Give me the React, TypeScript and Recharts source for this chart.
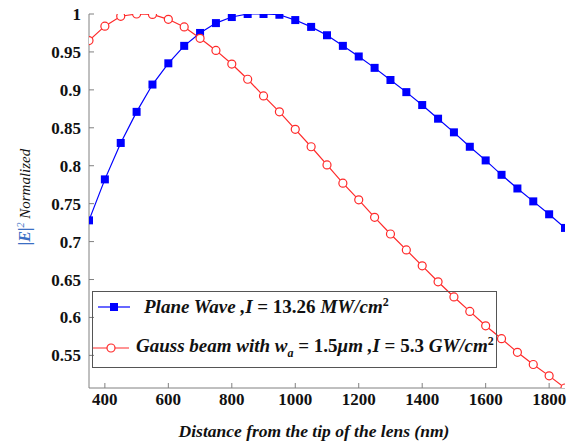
import { LineChart, Line, XAxis, YAxis, Legend, Label } from "recharts";

const distances = [
    350, 400, 450, 500, 550, 600, 650, 700, 750, 800, 850, 900, 950, 1000, 1050, 1100,
    1150, 1200, 1250, 1300, 1350, 1400, 1450, 1500, 1550, 1600, 1650, 1700, 1750, 1800, 1850,
];
const planeWave = [
    0.728, 0.782, 0.83, 0.871, 0.907, 0.935, 0.958, 0.975, 0.988, 0.996, 1.0, 1.0, 0.999, 0.992,
    0.983, 0.972, 0.958, 0.944, 0.929, 0.913, 0.897, 0.88, 0.862, 0.844, 0.825, 0.807, 0.788,
    0.77, 0.753, 0.736, 0.718,
];
const gaussBeam = [
    0.965, 0.984, 0.997, 1.0, 0.9995, 0.993, 0.983, 0.968, 0.952, 0.934, 0.914, 0.892, 0.871,
    0.848, 0.825, 0.801, 0.777, 0.755, 0.732, 0.71, 0.689, 0.668, 0.647, 0.627, 0.608, 0.589,
    0.572, 0.554, 0.538, 0.523, 0.507,
];
const xTicks = [400, 600, 800, 1000, 1200, 1400, 1600, 1800];
const yTicks = [0.55, 0.6, 0.65, 0.7, 0.75, 0.8, 0.85, 0.9, 0.95, 1];

const data = distances.map((d, i) => ({ d, plane: planeWave[i], gauss: gaussBeam[i] }));

const BLUE = "#0000ff";
const RED = "#ff2a2a";
const AXIS = "#808080";
const SERIF = "'Times New Roman', 'Liberation Serif', 'DejaVu Serif', serif";

const XTick = ({ x, y, payload }: any) => (
    <g>
        <line x1={x} x2={x} y1={y - 8} y2={y - 13} stroke={AXIS} />
        <text x={x} y={y + 9} textAnchor="middle" style={{ fontFamily: SERIF, fontWeight: 700, fontSize: 17 }} fill="#111">
            {payload.value}
        </text>
    </g>
);

const YTick = ({ x, y, payload }: any) => (
    <g>
        <line x1={x + 8} x2={x + 13} y1={y} y2={y} stroke={AXIS} />
        <text x={x} y={y + 6} textAnchor="end" style={{ fontFamily: SERIF, fontWeight: 700, fontSize: 17 }} fill="#111">
            {payload.value}
        </text>
    </g>
);

const LegendBox = () => (
    <div
        style={{
            width: 403, height: 75, border: "1.5px solid #555", background: "transparent",
            fontFamily: SERIF, fontWeight: "bold", fontSize: 19, color: "#111", position: "relative",
        }}
    >
        <div style={{ position: "absolute", left: 5, top: 3, display: "flex", alignItems: "center" }}>
            <svg width={34} height={14}>
                <line x1={0} x2={32} y1={7} y2={7} stroke={BLUE} strokeWidth={1.2} />
                <rect x={12} y={3} width={8} height={8} fill={BLUE} />
            </svg>
            <span style={{ marginLeft: 12, whiteSpace: "nowrap" }}>
                <i>Plane Wave ,I</i> = 13.26 <i>MW/cm</i><sup style={{ fontSize: 12 }}>2</sup>
            </span>
        </div>
        <div style={{ position: "absolute", left: 0, top: 42, display: "flex", alignItems: "center" }}>
            <svg width={38} height={14}>
                <line x1={0} x2={36} y1={7} y2={7} stroke={RED} strokeWidth={1.2} />
                <circle cx={18} cy={7} r={4} fill="#fff" stroke={RED} strokeWidth={1.2} />
            </svg>
            <span style={{ marginLeft: 5, whiteSpace: "nowrap" }}>
                <i>Gauss beam with w<sub style={{ fontSize: 12 }}>a</sub></i> = 1.5<i>μm ,I</i> = 5.3{" "}
                <i>GW/cm</i><sup style={{ fontSize: 12 }}>2</sup>
            </span>
        </div>
    </div>
);

export default function App() {
    return (
        <div style={{ position: "fixed", left: 0, top: 0, background: "#fff" }}>
            <LineChart width={578} height={446} data={data} margin={{ top: 14, right: 13, bottom: 28, left: 29 }}>
                <XAxis
                    dataKey="d"
                    type="number"
                    domain={[350, 1850]}
                    ticks={xTicks}
                    tick={<XTick />}
                    tickLine={false}
                    tickSize={0}
                    tickMargin={8}
                    height={30}
                    stroke={AXIS}
                    allowDataOverflow
                >
                    <Label
                        content={() => (
                            <text
                                x={314}
                                y={437}
                                textAnchor="middle"
                                style={{ fontFamily: SERIF, fontWeight: "bold", fontStyle: "italic", fontSize: 17.5 }}
                                fill="#111"
                            >
                                Distance from the tip of the lens (nm)
                            </text>
                        )}
                    />
                </XAxis>
                <YAxis
                    type="number"
                    domain={[0.507, 1]}
                    ticks={yTicks}
                    tick={<YTick />}
                    tickLine={false}
                    tickSize={0}
                    tickMargin={8}
                    width={60}
                    stroke={AXIS}
                    allowDataOverflow
                >
                    <Label
                        content={() => (
                            <text
                                transform="translate(30,197) rotate(-90)"
                                textAnchor="middle"
                                style={{ fontFamily: SERIF, fontSize: 15, fontStyle: "italic" }}
                            >
                                <tspan fill="#3b6fc4" fontWeight="bold" fontSize={16}>|E|</tspan>
                                <tspan fill="#3b6fc4" fontSize={10} dy={-6}>2</tspan>
                                <tspan fill="#111" dy={6}> Normalized</tspan>
                            </text>
                        )}
                    />
                </YAxis>
                <Line
                    dataKey="plane"
                    stroke={BLUE}
                    strokeWidth={1.2}
                    isAnimationActive={false}
                    dot={(p: any) => (
                        <rect key={p.index} x={p.cx - 4} y={p.cy - 4} width={8} height={8} fill={BLUE} />
                    )}
                    activeDot={false}
                />
                <Line
                    dataKey="gauss"
                    stroke={RED}
                    strokeWidth={1.2}
                    isAnimationActive={false}
                    dot={{ r: 4, fill: "#fff", stroke: RED, strokeWidth: 1.2 }}
                    activeDot={false}
                />
                <Legend
                    layout="horizontal"
                    verticalAlign="middle"
                    align="center"
                    content={<LegendBox />}
                    wrapperStyle={{ position: "absolute", left: 92, top: 291, width: 405, height: 77 }}
                />
            </LineChart>
        </div>
    );
}
